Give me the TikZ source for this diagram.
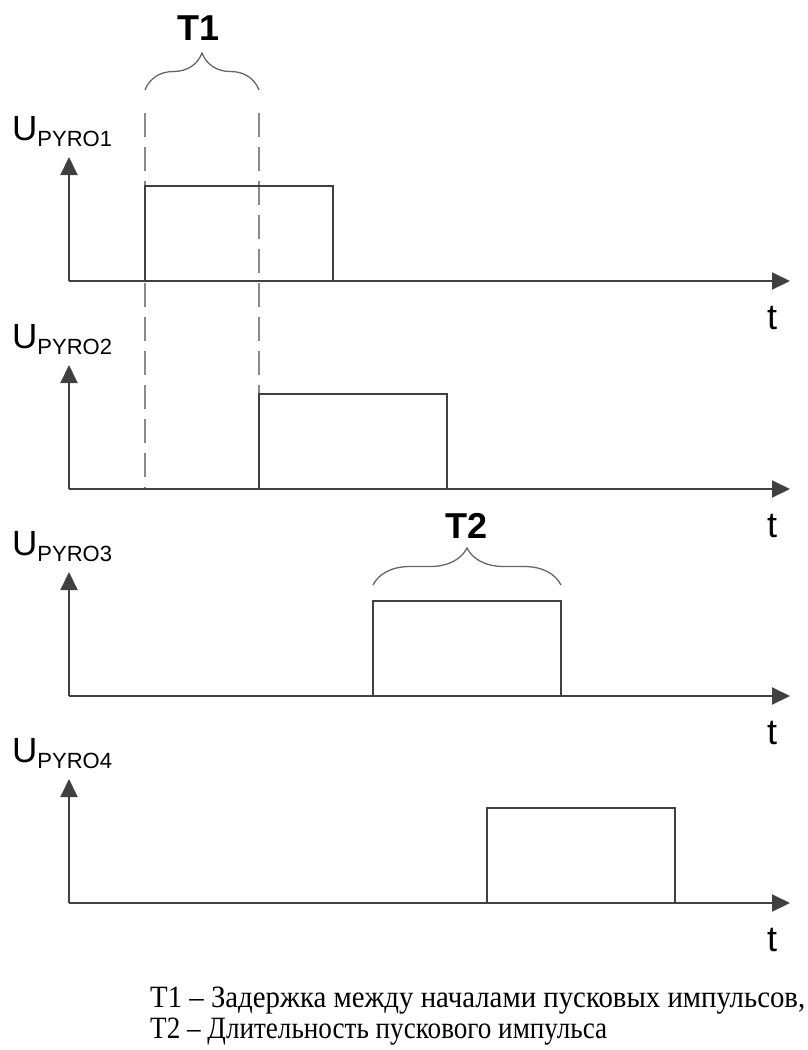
\documentclass[tikz,border=0pt]{standalone}
\usepackage{fontspec}
\usepackage{graphicx}
\setmainfont{Liberation Serif}
\setsansfont{Liberation Sans}
\usetikzlibrary{arrows.meta,decorations.pathreplacing}
\definecolor{axisgray}{HTML}{404040}
\definecolor{guidegray}{HTML}{8A8A8A}
\begin{document}
\begin{tikzpicture}[x=1pt,y=-1pt,
    axis/.style={line width=2pt,draw=axisgray,-{Triangle[length=18pt,width=17pt]}},
    pulse/.style={line width=2pt,draw=axisgray},
    guide/.style={line width=1.2pt,draw=guidegray,dash pattern=on 24pt off 10pt},
    tbrace/.style={line width=1.3pt,draw=axisgray!80,decorate,decoration={brace,amplitude=37pt}},
    siglabel/.style={anchor=base west,inner sep=0pt,font=\sffamily\fontsize{35}{35}\selectfont},
    tlabel/.style={anchor=base,inner sep=0pt,font=\sffamily\fontsize{36}{36}\selectfont},
    intlabel/.style={anchor=base,inner sep=0pt,font=\sffamily\bfseries\fontsize{36}{36}\selectfont},
    note/.style={anchor=base west,inner sep=0pt,font=\fontsize{31}{31}\selectfont}]
  \useasboundingbox (0,0) rectangle (808,1050);
  \draw[guide] (145,113) -- (145,489);
  \draw[guide] (259,113) -- (259,489);
  \foreach \i/\y/\x in {1/281/145,2/489/259,3/696/373,4/903/487}{
    \coordinate (o\i) at (69,\y);
    \coordinate (ytip\i) at (69,\y-124);
    \coordinate (xtip\i) at (790,\y);
    \draw[axis] (o\i) -- (ytip\i);
    \draw[axis] (o\i) -- (xtip\i);
    \draw[pulse] (\x,\y) -- (\x,\y-95) -- (\x+188,\y-95) -- (\x+188,\y);
    \node[siglabel] (u\i) at (12,\y-141)
      {U\raisebox{-6pt}{\fontsize{22}{22}\selectfont PYRO\i}};
    \node[tlabel] (t\i) at (772,\y+48) {t};
  }
  \draw[tbrace] (145,90) -- (259,90);
  \node[intlabel] (T1) at (199,40) {T1};
  \draw[tbrace] (373,585) -- (561,585);
  \node[intlabel] (T2) at (467,538) {T2};
  \node[note] (note1) at (150,1007)
    {\resizebox{655pt}{\height}{T1 -- Задержка между началами пусковых импульсов,}};
  \node[note] (note2) at (150,1038)
    {\resizebox{457pt}{\height}{T2 -- Длительность пускового импульса}};
\end{tikzpicture}
\end{document}
